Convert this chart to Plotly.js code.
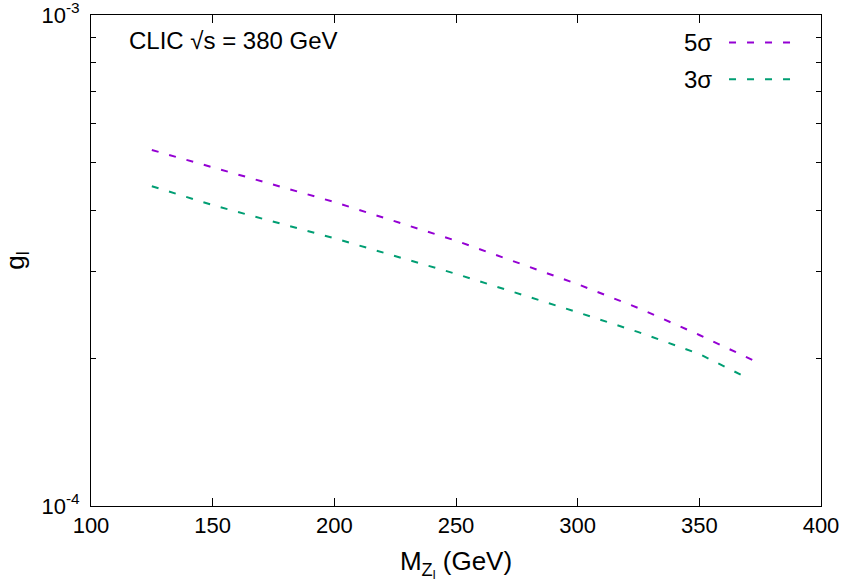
<!DOCTYPE html>
<html>
<head>
<meta charset="utf-8">
<script src="https://cdn.plot.ly/plotly-3.0.1.min.js"></script>
<style>
  html, body { margin: 0; padding: 0; background: #fff; }
  #plot { width: 847px; height: 585px; }
</style>
</head>
<body>
<div id="plot"></div>
<script>
    // coupling reach vs mass
    const mass5 = [125, 150, 200, 250, 300, 325, 350, 375];
    const g5 = [5.31e-4, 4.90e-4, 4.16e-4, 3.47e-4, 2.83e-4, 2.53e-4, 2.23e-4, 1.95e-4];

    const mass3 = [125, 150, 200, 250, 300, 325, 350, 370];
    const g3 = [4.48e-4, 4.10e-4, 3.51e-4, 2.97e-4, 2.48e-4, 2.26e-4, 2.04e-4, 1.82e-4];

    const yMajor = [1e-4, 1e-3];
    const yMajorText = ['10<sup>-4</sup>', '10<sup>-3</sup>'];
    const yMinor = [2e-4, 3e-4, 4e-4, 5e-4, 6e-4, 7e-4, 8e-4, 9e-4];

    const purple = '#9400d3';
    const green = '#009e73';
    const font = 'Liberation Sans, Arial, sans-serif';

    const fiveSigma = {
        name: '5σ',
        x: mass5,
        y: g5,
        mode: 'lines',
        line: { color: purple, width: 2, dash: '7px,11px' }
    };

    const threeSigma = {
        name: '3σ',
        x: mass3,
        y: g3,
        mode: 'lines',
        line: { color: green, width: 2, dash: '7px,11px' }
    };

    const layout = {
        width: 847,
        height: 585,
        margin: { l: 91, r: 26, t: 15, b: 79 },
        paper_bgcolor: '#fff',
        plot_bgcolor: '#fff',
        font: { family: font, size: 22, color: '#000' },
        showlegend: false,
        xaxis: {
            range: [100, 400],
            dtick: 50,
            tick0: 100,
            ticks: 'inside',
            ticklen: 8,
            tickcolor: '#000',
            ticklabeloverflow: 'allow',
            showline: true,
            linecolor: '#000',
            linewidth: 1,
            mirror: 'ticks',
            showgrid: false,
            zeroline: false,
            title: { text: 'M<sub>Z<sub>l</sub></sub> (GeV)', standoff: 14 }
        },
        yaxis: {
            type: 'log',
            range: [-4, -3],
            tickmode: 'array',
            tickvals: yMajor,
            ticktext: yMajorText,
            ticks: 'inside',
            ticklen: 8,
            tickcolor: '#000',
            ticklabelstandoff: 6,
            ticklabeloverflow: 'allow',
            minor: {
                tickmode: 'array',
                tickvals: yMinor,
                ticks: 'inside',
                ticklen: 5,
                tickcolor: '#000',
                showgrid: false
            },
            showline: true,
            linecolor: '#000',
            linewidth: 1,
            mirror: 'ticks',
            showgrid: false,
            zeroline: false,
            title: { text: 'g<sub>l</sub>', standoff: 38 }
        },
        annotations: [
            {
                text: 'CLIC √s = 380 GeV',
                font: { size: 24 },
                xref: 'paper', yref: 'paper',
                x: 0.049, y: 0.948,
                xanchor: 'left', yanchor: 'middle',
                showarrow: false
            },
            {
                text: '5σ',
                font: { size: 24 },
                xref: 'paper', yref: 'paper',
                x: 0.853, y: 0.944,
                xanchor: 'right', yanchor: 'middle',
                showarrow: false
            },
            {
                text: '3σ',
                font: { size: 24 },
                xref: 'paper', yref: 'paper',
                x: 0.853, y: 0.869,
                xanchor: 'right', yanchor: 'middle',
                showarrow: false
            }
        ],
        shapes: [
            {
                type: 'line', xref: 'paper', yref: 'paper',
                x0: 0.874, x1: 0.96, y0: 0.944, y1: 0.944,
                line: { color: purple, width: 2, dash: '7px,11px' }
            },
            {
                type: 'line', xref: 'paper', yref: 'paper',
                x0: 0.874, x1: 0.96, y0: 0.869, y1: 0.869,
                line: { color: green, width: 2, dash: '7px,11px' }
            }
        ]
    };

    Plotly.newPlot('plot', [fiveSigma, threeSigma], layout, { displayModeBar: false, staticPlot: true });
</script>
</body>
</html>
